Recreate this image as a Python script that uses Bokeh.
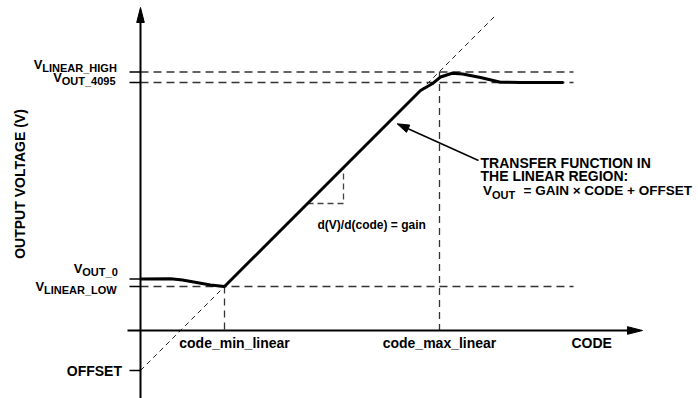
import math
from bokeh.plotting import figure
from bokeh.models import Range1d
from bokeh.core.properties import value
from bokeh.embed import file_html
from bokeh.resources import INLINE

# ---- schematic values (code units horizontally, voltage units vertically) ----
gain = 1.0
offset = -40.0
code_min_linear = 84.0
code_max_linear = 299.0
v_out_0 = 51.5
v_linear_low = 44.0
v_linear_high = 258.5
v_out_4095 = 248.0
code_axis_end = 502.0
volt_axis_end = 323.0
code_full_scale = 423.0

# transfer function (actual DAC output)
curve_code = [0, 30, 42, 56, 70, 84, 260, 280, 291.7, 300, 311.7, 322, 340, 360, 380, 423]
curve_vout = [51.5, 51.7, 50.5, 48, 45.5, 44, 220, 240, 246.7, 253.5, 257.3, 256.5, 253, 248.3, 248, 248]

# slope triangle on the ideal line
tri_code = [167.0, 203.0]

# labels on the voltage axis
ylab_sub = ["LINEAR_HIGH", "OUT_4095", "OUT_0", "LINEAR_LOW"]
ylab_val = [v_linear_high, v_out_4095, v_out_0, v_linear_low]
xlab_text = ["code_min_linear", "code_max_linear"]
xlab_val = [code_min_linear, code_max_linear]

# ---- layout ----
FONT = value("Liberation Sans")
ylab_left = [-106.7, -87.3, -66.7, -105.0]
ylab_dy = [7.5, 5.0, 11.0, 0.0]

p = figure(width=698, height=398, x_range=Range1d(-140, 558), y_range=Range1d(-68, 330),
           output_backend="svg", toolbar_location=None, min_border=0,
           x_axis_location=None, y_axis_location=None)
p.grid.visible = False
p.outline_line_color = None
p.background_fill_color = "white"
p.border_fill_color = "white"


def head(tx, ty, sx, sy, length, half):
    d = math.hypot(tx - sx, ty - sy)
    ux, uy = (tx - sx) / d, (ty - sy) / d
    bx, by = tx - ux * length, ty - uy * length
    nx, ny = -uy, ux
    return [tx, bx + nx * half, bx - nx * half], [ty, by + ny * half, by - ny * half], bx, by


# ideal straight line  V = gain*code + offset
ideal_x = [0.0, (315.0 - offset) / gain]
p.line(ideal_x, [offset + gain * c for c in ideal_x], line_color="#222", line_width=1,
       line_dash="5 4")

# horizontal dashed reference levels
hl = [v_linear_high, v_out_4095, v_linear_low]
p.segment(x0=[0] * 3, y0=hl, x1=[code_full_scale + 10] * 3, y1=hl,
          line_color="#333", line_width=1.3, line_dash="8 5")

# vertical dashed code markers
p.segment(x0=[code_min_linear, code_max_linear], y0=[v_linear_low, v_linear_high],
          x1=[code_min_linear, code_max_linear], y1=[0, 0],
          line_color="#333", line_width=1.3, line_dash="7 5")

# slope triangle
t_y = [offset + gain * c for c in tri_code]
p.line([tri_code[0], tri_code[1], tri_code[1]], [t_y[0], t_y[0], t_y[1]],
       line_color="#444", line_width=1.3, line_dash="6 4")

# ticks on the voltage axis
ticks = [v_linear_high, v_out_4095, v_out_0, v_linear_low, offset]
p.segment(x0=[-11] * 5, y0=ticks, x1=[0] * 5, y1=ticks, line_color="black", line_width=1.5)

# axes with arrows
p.line([-13, code_axis_end - 14], [0, 0], line_color="black", line_width=2)
hx, hy, _, _ = head(code_axis_end, 0, 0, 0, 15, 3.8)
p.patch(hx, hy, fill_color="black", line_color="black", line_width=1)
p.line([0, 0], [-68, volt_axis_end - 14], line_color="black", line_width=2)
hx, hy, _, _ = head(0, volt_axis_end, 0, 0, 15, 3.8)
p.patch(hx, hy, fill_color="black", line_color="black", line_width=1)

# transfer curve
p.line(curve_code, curve_vout, line_color="black", line_width=3, line_join="round")

# annotation arrow
a_start = (338.0, 170.0)
a_tip = (256.7, 206.7)
hx, hy, bx, by = head(a_tip[0], a_tip[1], a_start[0], a_start[1], 12, 4)
p.line([a_start[0], bx], [a_start[1], by], line_color="black", line_width=1.5)
p.patch(hx, hy, fill_color="black", line_color="black", line_width=1)

common = dict(text_font=FONT, text_font_style="bold", text_color="black", text_baseline="middle")

# voltage-axis labels (V + subscript)
vy = [v + d for v, d in zip(ylab_val, ylab_dy)]
p.text(x=ylab_left, y=vy, text=["V"] * 4, text_font_size="13px", text_align="left", **common)
p.text(x=[x + 8.5 for x in ylab_left], y=[y - 3.5 for y in vy], text=ylab_sub,
       text_font_size="11px", text_align="left", **common)
p.text(x=[-18.5], y=[offset], text=["OFFSET"], text_font_size="14px", text_align="right", **common)

# code-axis labels
p.text(x=[xlab_val[0] + 10, xlab_val[1]], y=[-12.5, -12.5], text=xlab_text,
       text_font_size="14px", text_align="center", **common)
p.text(x=[431], y=[-12.5], text=["CODE"], text_font_size="14px", text_align="left", **common)

# axis title
p.text(x=[-121], y=[146.5], text=["OUTPUT VOLTAGE (V)"], angle=math.pi / 2,
       text_font_size="14px", text_align="center", **common)

# slope annotation
p.text(x=[177], y=[106], text=["d(V)/d(code) = gain"], text_font_size="12px",
       text_align="left", **common)

# transfer function note
p.text(x=[340, 340], y=[168, 154.5], text=["TRANSFER FUNCTION IN", "THE LINEAR REGION:"],
       text_font_size="14px", text_align="left", **common)
p.text(x=[342.5], y=[139.7], text=["V"], text_font_size="13.5px", text_align="left", **common)
p.text(x=[351.5], y=[136], text=["OUT"], text_font_size="11px", text_align="left", **common)
p.text(x=[383], y=[139.7], text=["= GAIN \u00d7 CODE + OFFSET"], text_font_size="13.5px",
       text_align="left", **common)

open("out.html", "w").write(file_html(p, INLINE))
